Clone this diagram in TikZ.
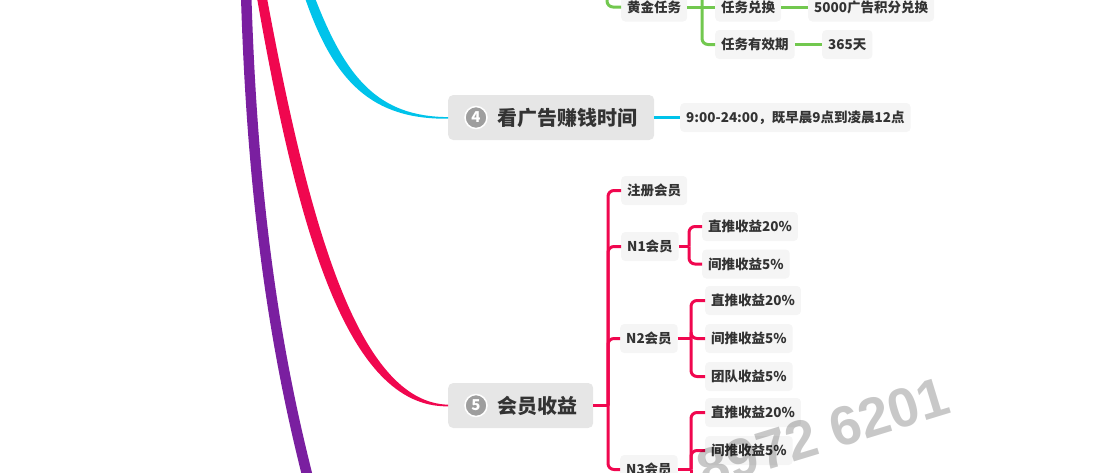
\documentclass[tikz,border=0pt]{standalone}
\usepackage{fontspec}
\setmainfont{Noto Sans CJK SC}
\newfontfamily\wmfont{Liberation Sans}
\definecolor{txt}{HTML}{333333}
\definecolor{subfill}{HTML}{F5F5F5}
\definecolor{mainfill}{HTML}{E6E6E6}
\definecolor{numgray}{HTML}{9E9E9E}
\definecolor{pinkc}{HTML}{F0074F}
\definecolor{cyanc}{HTML}{00C3EA}
\definecolor{greenc}{HTML}{72C84F}
\definecolor{purplec}{HTML}{7A1FA0}
\definecolor{wmgray}{HTML}{C8C8C8}
\begin{document}
\begin{tikzpicture}[x=1pt,y=-1pt,
  subnode/.style={rectangle, rounded corners=4pt, fill=subfill, text=txt,
    font=\bfseries\fontsize{13.5}{16}\selectfont, inner xsep=6pt, inner ysep=0pt,
    minimum height=29pt, anchor=west},
  mainbox/.style={rectangle, rounded corners=5pt, fill=mainfill, minimum height=45pt,
    inner sep=0pt, anchor=west},
  maintext/.style={text=txt, font=\bfseries\fontsize{20}{24}\selectfont, inner sep=0pt, anchor=west},
  numc/.style={circle, fill=numgray, draw=white, line width=1.5pt, minimum size=22pt,
    inner sep=0pt, text=white, font=\bfseries\fontsize{15}{17}\selectfont},
  pinkl/.style={draw=pinkc, line width=3pt, rounded corners=6pt},
  greenl/.style={draw=greenc, line width=3pt, rounded corners=6pt},
  cyanl/.style={draw=cyanc, line width=3pt},
  wm/.style={text=wmgray, font=\wmfont\bfseries\fontsize{55}{60}\selectfont, inner sep=0pt}
]
\useasboundingbox (0,0) rectangle (1110,472);
\clip (0,0) rectangle (1110,472);

% main nodes
\node[mainbox, minimum width=206pt] (m4) at (448,117.5) {};
\node[numc] (m4n) at (476,117.5) {4};
\node[maintext] (m4t) at (497,117.5) {看广告赚钱时间};
\node[mainbox, minimum width=145pt] (m5) at (448,405.5) {};
\node[numc] (m5n) at (476,405.5) {5};
\node[maintext] (m5t) at (497,405.5) {会员收益};

% thick branch curves
\draw[draw=purplec, line width=10.5pt] (246,-10) .. controls (252,200) and (275,350) .. (309,482);
\fill[cyanc] (305,-2) .. controls (334,82) and (372,119.5) .. (448,118.7)
  -- (448,117.1) .. controls (378,116.5) and (346,78) .. (315,-2) -- cycle;
\fill[pinkc] (257,-2) .. controls (297,226) and (346,408) .. (448,406.3)
  -- (448,404.7) .. controls (358,402) and (309,224) .. (267,-2) -- cycle;

% green branch
\node[subnode] (g1) at (621,7) {黄金任务};
\node[subnode] (g2) at (715,7) {任务兑换};
\node[subnode] (g3) at (808,7) {5000广告积分兑换};
\node[subnode] (g4) at (715,44.5) {任务有效期};
\node[subnode] (g5) at (822,44.5) {365天};
\coordinate (gtop) at (607,-30);
\coordinate (gstop) at (702,-30);
\draw[greenl] (gtop) |- (g1.west);
\draw[greenl] (g1.east) -- (g2.west);
\draw[greenl] (gstop) |- (g4.west);
\draw[greenl] (g2.east) -- (g3.west);
\draw[greenl] (g4.east) -- (g5.west);

% cyan branch
\node[subnode] (c1) at (680,117.5) {9:00-24:00，既早晨9点到凌晨12点};
\draw[cyanl] (m4.east) -- (c1.west);

% pink branch
\node[subnode] (p1) at (621,190.5) {注册会员};
\node[subnode] (p2) at (621,246.5) {N1会员};
\node[subnode] (p21) at (702,226.5) {直推收益20\%};
\node[subnode] (p22) at (702,264) {间推收益5\%};
\node[subnode] (p3) at (620,338.5) {N2会员};
\node[subnode] (p31) at (705,300.5) {直推收益20\%};
\node[subnode] (p32) at (705,338.5) {间推收益5\%};
\node[subnode] (p33) at (705,376.5) {团队收益5\%};
\node[subnode] (p4) at (620,469.5) {N3会员};
\node[subnode] (p41) at (705,412.5) {直推收益20\%};
\node[subnode] (p42) at (705,450.5) {间推收益5\%};

\coordinate (ps) at (608,405.5);
\draw[pinkl] (m5.east) -- (ps);
\foreach \c in {p1,p2,p3,p4} { \draw[pinkl] (ps) |- (\c.west); }
\coordinate (ps1) at (689,246.5);
\draw[pinkl] (p2.east) -- (ps1);
\foreach \c in {p21,p22} { \draw[pinkl] (ps1) |- (\c.west); }
\coordinate (ps2) at (691,338.5);
\draw[pinkl] (p3.east) -- (ps2);
\foreach \c in {p31,p32,p33} { \draw[pinkl] (ps2) |- (\c.west); }
\coordinate (ps3) at (691,469.5);
\coordinate (ps3b) at (691,495);
\draw[pinkl] (p4.east) -- (ps3);
\foreach \c in {p41,p42} { \draw[pinkl] (ps3) |- (\c.west); }
\draw[pinkl] (ps3) -- (ps3b);

% watermark
\begin{scope}[blend mode=multiply]
\node[wm, rotate=17, anchor=base] (wmk) at (829,451) {8972 6201};
\end{scope}
\end{tikzpicture}
\end{document}
